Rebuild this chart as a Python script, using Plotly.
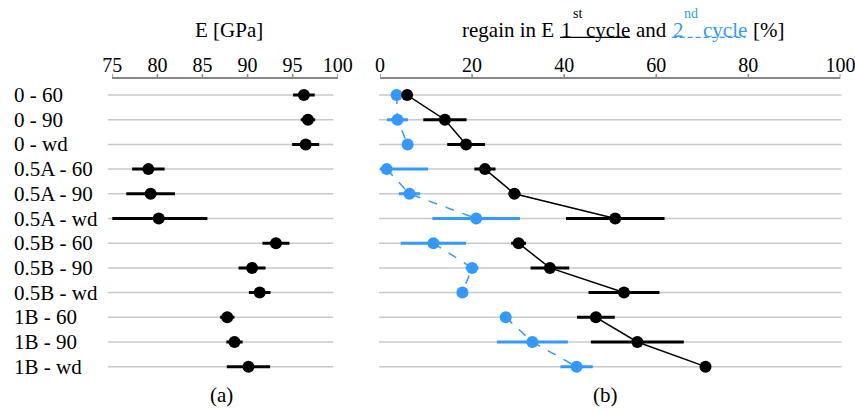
import plotly.graph_objects as go

# ---------------- data ----------------
categories = ["0 - 60", "0 - 90", "0 - wd",
              "0.5A - 60", "0.5A - 90", "0.5A - wd",
              "0.5B - 60", "0.5B - 90", "0.5B - wd",
              "1B - 60", "1B - 90", "1B - wd"]
E_mean = [96.25, 96.7, 96.45, 79.0, 79.25, 80.15, 93.15, 90.5, 91.35, 87.75, 88.55, 90.1]
E_err = [1.2, 0.8, 1.5, 1.8, 2.7, 5.4, 1.5, 1.5, 1.2, 0.8, 0.9, 2.4]
regain1 = [5.9, 14.1, 18.7, 22.8, 29.2, 51.1, 30.1, 36.9, 53.0, 46.9, 55.9, 70.7]
regain1_err = [1.0, 4.7, 4.1, 2.3, 1.3, 10.7, 1.6, 4.2, 7.7, 4.1, 10.1, 0.8]
regain2 = [3.6, 3.8, 6.0, 1.45, 6.4, 20.9, 11.6, 20.0, 17.9, 27.3, 33.1, 42.7]
regain2_err = [1.0, 2.3, 0.6, 9.0, 2.3, 9.5, 7.1, 1.4, 0.6, 0.6, 7.7, 3.5]
E_ticks = [75, 80, 85, 90, 95, 100]
regain_ticks = [0, 20, 40, 60, 80, 100]
groups = [(0, 3), (3, 6), (6, 9), (9, 12)]

W, H = 855, 411
FONT = "Liberation Serif, Times New Roman, DejaVu Serif, serif"
BLUE = "#3399FF"
AXIS_GREY = "#888888"
MSIZE = 12

def px(x):
    return x / W

def py(y):
    return 1 - y / H

fig = go.Figure()

# left panel: E
fig.add_trace(go.Scatter(
    x=E_mean, y=categories, mode="markers",
    marker=dict(color="black", size=MSIZE),
    error_x=dict(type="data", array=E_err, color="black", thickness=3, width=0),
    xaxis="x", yaxis="y", showlegend=False))

# right panel: 2nd cycle (blue, dashed)
for a, b in groups:
    fig.add_trace(go.Scatter(
        x=regain2[a:b], y=categories[a:b], mode="lines+markers",
        line=dict(color=BLUE, width=1.5, dash="dash"),
        marker=dict(color=BLUE, size=MSIZE),
        error_x=dict(type="data", array=regain2_err[a:b], color=BLUE, thickness=3, width=0),
        xaxis="x2", yaxis="y2", showlegend=False))

# right panel: 1st cycle (black, solid)
for a, b in groups:
    fig.add_trace(go.Scatter(
        x=regain1[a:b], y=categories[a:b], mode="lines+markers",
        line=dict(color="black", width=1.5),
        marker=dict(color="black", size=MSIZE),
        error_x=dict(type="data", array=regain1_err[a:b], color="black", thickness=3, width=0),
        xaxis="x2", yaxis="y2", showlegend=False))

AXIS_Y = 79
y_dom = [py(379), py(AXIS_Y)]
axis_common = dict(side="top", ticks="", showline=True, linecolor=AXIS_GREY, linewidth=1.5,
                   showgrid=False, zeroline=False, automargin=False,
                   ticklabeloverflow="allow", ticklabelstandoff=-3,
                   tickfont=dict(family=FONT, size=20, color="black"))

shapes = []
for c in categories:
    shapes.append(dict(type="line", xref="paper", yref="y", x0=px(108), x1=px(333.3),
                       y0=c, y1=c, line=dict(color="#c8c8c8", width=1.5), layer="below"))
    shapes.append(dict(type="line", xref="paper", yref="y2", x0=px(379), x1=px(841.5),
                       y0=c, y1=c, line=dict(color="#c8c8c8", width=1.5), layer="below"))

# tick marks (pointing up from the top axis lines)
for xref, ticks in (("x", E_ticks), ("x2", regain_ticks)):
    for t in ticks:
        shapes.append(dict(type="line", xref=xref, yref="paper", x0=t, x1=t,
                           y0=py(AXIS_Y), y1=py(AXIS_Y - 5),
                           line=dict(color=AXIS_GREY, width=1.5)))

# underlines of the title parts
shapes.append(dict(type="line", xref="paper", yref="paper", x0=px(560), x1=px(630),
                   y0=py(37.3), y1=py(37.3), line=dict(color="black", width=1.2)))
shapes.append(dict(type="line", xref="paper", yref="paper", x0=px(671.7), x1=px(745.5),
                   y0=py(37.3), y1=py(37.3), line=dict(color=BLUE, width=1.2, dash="5px,3px")))

def txt(text, x, y, size=21, color="black", anchor="left"):
    return dict(text=text, xref="paper", yref="paper", x=px(x), y=py(y),
                xanchor=anchor, yanchor="middle", showarrow=False, borderpad=0,
                font=dict(family=FONT, size=size, color=color))

annotations = []
for c in categories:
    annotations.append(dict(text=c, xref="paper", yref="y", x=px(13), y=c,
                            xanchor="left", yanchor="middle", showarrow=False, borderpad=0,
                            font=dict(family=FONT, size=21, color="black")))
annotations += [
    txt("E [GPa]", 229, 30, anchor="center"),
    txt("regain in E", 460.7, 30),
    txt("1", 560, 30),
    txt("st", 571.5, 14, size=14),
    txt("cycle", 585, 30),
    txt("and", 635, 30),
    txt("2", 671.7, 30, color=BLUE),
    txt("nd", 682.5, 14, size=14, color=BLUE),
    txt("cycle", 701.7, 30, color=BLUE),
    txt("[%]", 751.7, 30),
    txt("(a)", 222, 395, anchor="center"),
    txt("(b)", 605, 395, anchor="center"),
]

fig.update_layout(
    width=W, height=H, margin=dict(l=0, r=0, t=0, b=0, autoexpand=False),
    paper_bgcolor="white", plot_bgcolor="white", showlegend=False,
    font=dict(family=FONT),
    xaxis=dict(domain=[px(112.3), px(337.7)], range=[75, 100], tickvals=E_ticks,
               anchor="y", **axis_common),
    xaxis2=dict(domain=[px(380), px(840.4)], range=[0, 100], tickvals=regain_ticks,
                anchor="y2", **axis_common),
    yaxis=dict(domain=y_dom, type="category", categoryarray=categories,
               range=[11.5, -0.65], showticklabels=False, showgrid=False,
               zeroline=False, showline=False, anchor="x", automargin=False),
    yaxis2=dict(domain=y_dom, type="category", categoryarray=categories,
                range=[11.5, -0.65], showticklabels=False, showgrid=False,
                zeroline=False, showline=False, anchor="x2", matches="y", automargin=False),
    shapes=shapes, annotations=annotations,
)

fig.write_html("out.html",
               config={"displayModeBar": False},
               post_script="document.body.style.margin='0';"
                           "document.body.style.overflow='hidden';"
                           "document.documentElement.style.overflow='hidden';")
